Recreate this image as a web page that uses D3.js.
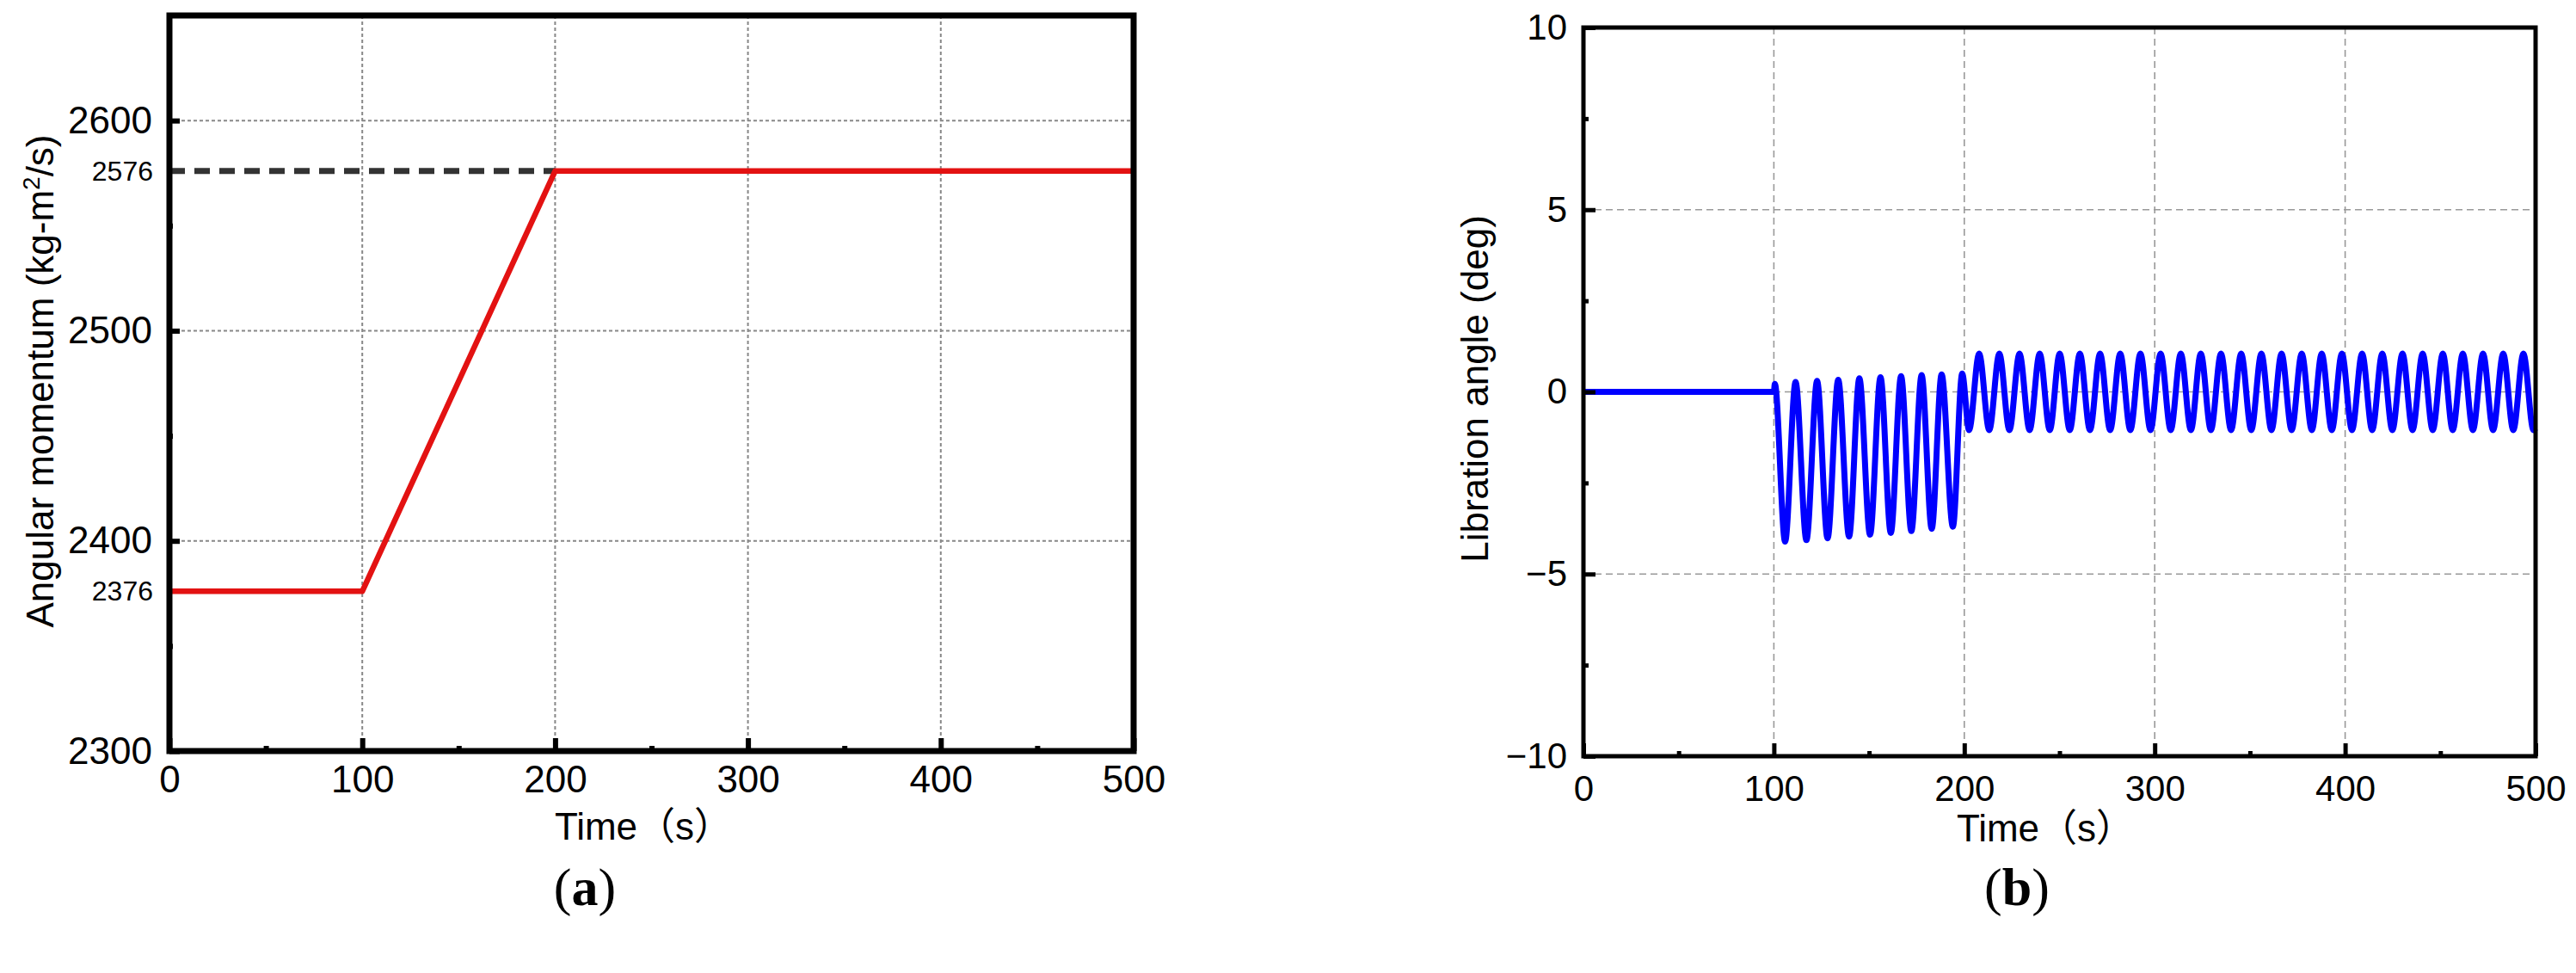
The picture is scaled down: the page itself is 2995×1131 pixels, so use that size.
<!DOCTYPE html>
<html><head><meta charset="utf-8">
<script src="https://cdn.jsdelivr.net/npm/d3@7"></script>
<style>body{margin:0;background:#fff;} svg{display:block;background:#fff}</style>
</head><body>
<svg id="c" width="2995" height="1131"></svg>
<script>
// ---------- data ----------
const xTicks = [0, 100, 200, 300, 400, 500];
const xMinorTicks = [50, 150, 250, 350, 450];
const gridX = [100, 200, 300, 400];

// panel (a)
const momTime  = [0, 100, 200, 500];
const momValue = [2376, 2376, 2576, 2576];
const targetTime  = [0, 200];
const targetValue = [2576, 2576];
const momTicks = [2300, 2400, 2500, 2600];
const momMinorTicks = [2350, 2450, 2550];
const momMarkTicks = [2376, 2576];
const momGrid = [2400, 2500, 2600];

// panel (b)
const angTicks = [-10, -5, 0, 5, 10];
const angMinorTicks = [-7.5, -2.5, 2.5, 7.5];
const angGrid = [-5, 0, 5];
const libTime = [0, 100, 100.5, 105.9, 111.4, 117.1, 122.7, 128.2, 133.8, 139.5, 144.9,
  150.5, 156.0, 161.4, 166.8, 172.2, 177.6, 182.9, 188.1, 194.0, 198.9,
  202.5, 207.8, 213.1, 218.4, 223.7, 229.0, 234.3, 239.6, 244.9, 250.1,
  255.4, 260.7, 266.0, 271.3, 276.6, 281.9, 287.2, 292.5, 297.8, 303.1,
  308.4, 313.7, 319.0, 324.2, 329.5, 334.8, 340.1, 345.4, 350.7, 356.0,
  361.3, 366.6, 371.9, 377.2, 382.5, 387.7, 393.0, 398.3, 403.6, 408.9,
  414.2, 419.5, 424.8, 430.1, 435.4, 440.7, 446.0, 451.3, 456.5, 461.8,
  467.1, 472.4, 477.7, 483.0, 488.3, 493.6, 498.9, 500];
const libAngle = [0, 0, 0.22, -4.11, 0.27, -4.07, 0.30, -4.02, 0.33, -3.97, 0.37,
  -3.92, 0.40, -3.87, 0.43, -3.82, 0.46, -3.76, 0.48, -3.70, 0.50,
  -1.05, 1.05, -1.05, 1.05, -1.05, 1.05, -1.05, 1.05, -1.05, 1.05,
  -1.05, 1.05, -1.05, 1.05, -1.05, 1.05, -1.05, 1.05, -1.05, 1.05,
  -1.05, 1.05, -1.05, 1.05, -1.05, 1.05, -1.05, 1.05, -1.05, 1.05,
  -1.05, 1.05, -1.05, 1.05, -1.05, 1.05, -1.05, 1.05, -1.05, 1.05,
  -1.05, 1.05, -1.05, 1.05, -1.05, 1.05, -1.05, 1.05, -1.05, 1.05,
  -1.05, 1.05, -1.05, 1.05, -1.05, 1.05, -1.05, -1.0];

// ---------- drawing ----------
const svg = d3.select("#c");
const SANS = "'Liberation Sans', Arial, 'Noto Sans CJK SC', sans-serif";
const SERIF = "'Liberation Serif', 'Times New Roman', serif";

function styleAxis(g, fs, tw) {
  g.select(".domain").remove();
  g.selectAll(".tick line").attr("stroke", "#000").attr("stroke-width", tw);
  g.selectAll(".tick text").attr("font-family", SANS).attr("font-size", fs).attr("fill", "#000");
}

function panel(o) {
  const x = d3.scaleLinear([0, 500], [o.left, o.right]);
  const y = d3.scaleLinear(o.yDomain, [o.bottom, o.top]);
  const g = svg.append("g");

  // grid
  g.append("g").selectAll("line").data(gridX).join("line")
    .attr("x1", d => x(d)).attr("x2", d => x(d))
    .attr("y1", o.top).attr("y2", o.bottom)
    .attr("stroke", o.gridColor).attr("stroke-width", o.gridW)
    .attr("stroke-dasharray", o.gridDash);
  g.append("g").selectAll("line").data(o.yGrid).join("line")
    .attr("x1", o.left).attr("x2", o.right)
    .attr("y1", d => y(d)).attr("y2", d => y(d))
    .attr("stroke", o.gridColor).attr("stroke-width", o.gridW)
    .attr("stroke-dasharray", o.gridDash);

  o.drawData(g, x, y);

  // axes
  const xa = g.append("g").attr("transform", `translate(0,${o.bottom})`)
    .call(d3.axisBottom(x).tickValues(xTicks).tickFormat(d3.format("d"))
      .tickSize(-o.xMajor).tickPadding(o.xPad));
  styleAxis(xa, o.xFont, o.tickW);
  const xm = g.append("g").attr("transform", `translate(0,${o.bottom})`)
    .call(d3.axisBottom(x).tickValues(xMinorTicks).tickFormat("").tickSize(-o.xMinor));
  styleAxis(xm, o.xFont, o.tickW);

  const ya = g.append("g").attr("transform", `translate(${o.left},0)`)
    .call(d3.axisLeft(y).tickValues(o.yTicks).tickFormat(d3.format("d"))
      .tickSize(-o.yMajor).tickPadding(o.yPad));
  styleAxis(ya, o.yFont, o.tickW);
  const ym = g.append("g").attr("transform", `translate(${o.left},0)`)
    .call(d3.axisLeft(y).tickValues(o.yMinorTicks).tickFormat("").tickSize(-o.yMinor));
  styleAxis(ym, o.yFont, o.tickW);

  if (o.extra) o.extra(g, x, y);

  // frame
  g.append("rect").attr("x", o.left).attr("y", o.top)
    .attr("width", o.right - o.left).attr("height", o.bottom - o.top)
    .attr("fill", "none").attr("stroke", "#000").attr("stroke-width", o.frameW);

  // titles
  g.append("text").attr("x", o.xTitleX).attr("y", o.xTitleY)
    .attr("text-anchor", "middle").attr("font-family", SANS).attr("font-size", 44)
    .text("Time（s）");
  const yt = g.append("text")
    .attr("transform", `translate(${o.yTitleX},${o.yTitleY}) rotate(-90)`)
    .attr("text-anchor", "middle").attr("font-family", SANS).attr("font-size", 44);
  o.yTitle(yt);

  const lab = g.append("text").attr("x", o.labX).attr("y", o.labY)
    .attr("text-anchor", "middle").attr("font-family", SERIF).attr("font-size", 62);
  lab.append("tspan").text("(");
  lab.append("tspan").attr("font-weight", "bold").text(o.letter);
  lab.append("tspan").text(")");
}

// panel (a)
panel({
  left: 197, right: 1318, top: 18, bottom: 873,
  yDomain: [2300, 2650], yTicks: momTicks, yMinorTicks: momMinorTicks, yGrid: momGrid,
  gridColor: "#888", gridW: 2, gridDash: "4,3",
  xMajor: 15, xMinor: 6, yMajor: 12, yMinor: 4, xPad: 17, yPad: 20, tickW: 6,
  xFont: 44, yFont: 44, frameW: 7,
  xTitleX: 748, xTitleY: 976, yTitleX: 62, yTitleY: 443,
  labX: 680, labY: 1052, letter: "a",
  yTitle: t => {
    t.append("tspan").text("Angular momentum (kg-m");
    t.append("tspan").attr("font-size", 28).attr("dy", -16).text("2");
    t.append("tspan").attr("dy", 16).text("/s)");
  },
  drawData: (g, x, y) => {
    const tgt = targetTime.map((t, i) => [t, targetValue[i]]);
    g.append("path").datum(tgt)
      .attr("d", d3.line().x(d => x(d[0])).y(d => y(d[1])))
      .attr("fill", "none").attr("stroke", "#333").attr("stroke-width", 7)
      .attr("stroke-dasharray", "18,11");
    const mom = momTime.map((t, i) => [t, momValue[i]]);
    g.append("path").datum(mom)
      .attr("d", d3.line().x(d => x(d[0])).y(d => y(d[1])))
      .attr("fill", "none").attr("stroke", "#e31212").attr("stroke-width", 6.5)
      .attr("stroke-linejoin", "round");
  },
  extra: (g, x, y) => {
    const ma = g.append("g").attr("transform", `translate(197,0)`)
      .call(d3.axisLeft(y).tickValues(momMarkTicks).tickFormat(d3.format("d"))
        .tickSize(0).tickPadding(19));
    styleAxis(ma, 32, 0);
  }
});

// panel (b)
panel({
  left: 1841, right: 2948, top: 32, bottom: 879,
  yDomain: [-10, 10], yTicks: angTicks, yMinorTicks: angMinorTicks, yGrid: angGrid,
  gridColor: "#999", gridW: 1.6, gridDash: "8,5",
  xMajor: 15, xMinor: 6, yMajor: 14, yMinor: 6, xPad: 22, yPad: 19, tickW: 5,
  xFont: 42, yFont: 42, frameW: 5,
  xTitleX: 2378, xTitleY: 978, yTitleX: 1730, yTitleY: 452,
  labX: 2345, labY: 1052, letter: "b",
  yTitle: t => t.text("Libration angle (deg)"),
  drawData: (g, x, y) => {
    const lib = libTime.map((t, i) => [t, libAngle[i]]);
    g.append("path").datum(lib)
      .attr("d", d3.line().curve(d3.curveMonotoneX).x(d => x(d[0])).y(d => y(d[1])))
      .attr("fill", "none").attr("stroke", "#0000ff").attr("stroke-width", 7)
      .attr("stroke-linejoin", "round");
  }
});
</script>
</body></html>
